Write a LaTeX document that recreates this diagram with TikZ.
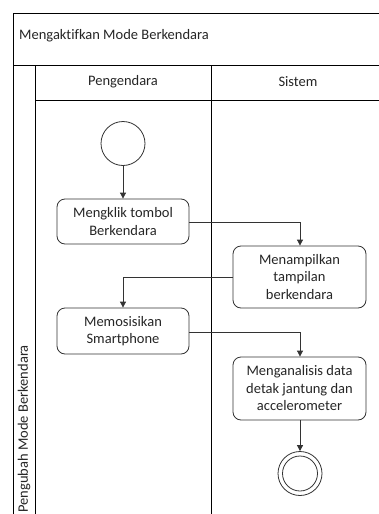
\documentclass[tikz,border=0pt]{standalone}
\usepackage{fontspec}
\setmainfont{Carlito}[Ligatures=NoCommon]
\usetikzlibrary{arrows.meta}
\begin{document}
\begin{tikzpicture}[x=1pt,y=-1pt,
  frame/.style={draw=black,line width=0.8pt},
  action/.style={draw=black!80,line width=0.8pt,rounded corners=8pt,align=center,
    font=\fontsize{14.5}{17.5}\selectfont,text=black!85,inner sep=0pt},
  flow/.style={draw=black!80,line width=0.8pt,-{Triangle[length=6pt,width=6pt]}},
  lbl/.style={font=\fontsize{14.5}{17.5}\selectfont,text=black!85,inner sep=0pt}]
\useasboundingbox (0,0) rectangle (379,514);
\fill[white] (0,0) rectangle (379,514);
% pool and lanes
\draw[frame] (379,13) -- (13,13) -- (13,514);
\draw[frame] (13,65) -- (379,65);
\draw[frame] (35,65) -- (35,514);
\draw[frame] (211,65) -- (211,514);
\draw[frame] (35,100) -- (379,100);
\node[lbl,anchor=west] (title) at (19,36) {Mengaktifkan Mode Berkendara};
\node[lbl] (lane1) at (123,82) {Pengendara};
\node[lbl] (lane2) at (298,82) {Sistem};
\node[lbl,rotate=90] (pool) at (24,429) {Pengubah Mode Berkendara};
% nodes
\node[draw=black!80,line width=0.8pt,circle,minimum size=44pt,inner sep=0pt] (start) at (123,143.5) {};
\node[action,minimum width=132pt,minimum height=45pt] (a1) at (123,221.5) {Mengklik tombol\\Berkendara};
\node[action,minimum width=133pt,minimum height=62pt] (a2) at (299.5,277) {Menampilkan\\tampilan\\berkendara};
\node[action,minimum width=132pt,minimum height=46pt] (a3) at (123,331) {Memosisikan\\Smartphone};
\node[action,minimum width=133pt,minimum height=63pt] (a4) at (299.5,388.5) {Menganalisis data\\detak jantung dan\\accelerometer};
\node[draw=black!80,line width=0.8pt,circle,minimum size=44pt,inner sep=0pt] (end) at (300,473.5) {};
\node[draw=black!80,line width=0.8pt,circle,minimum size=35pt,inner sep=0pt] (endin) at (end.center) {};
% flows
\draw[flow] (start) -- (a1);
\draw[flow] (a1.east |- 0,222) -| (a2.north -| 300,0);
\draw[flow] (a2.west |- 0,277) -| (a3.north);
\draw[flow] (a3.east |- 0,332) -| (a4.north -| 300,0);
\draw[flow] (a4.south -| 300,0) -- (end.north);
\end{tikzpicture}
\end{document}
